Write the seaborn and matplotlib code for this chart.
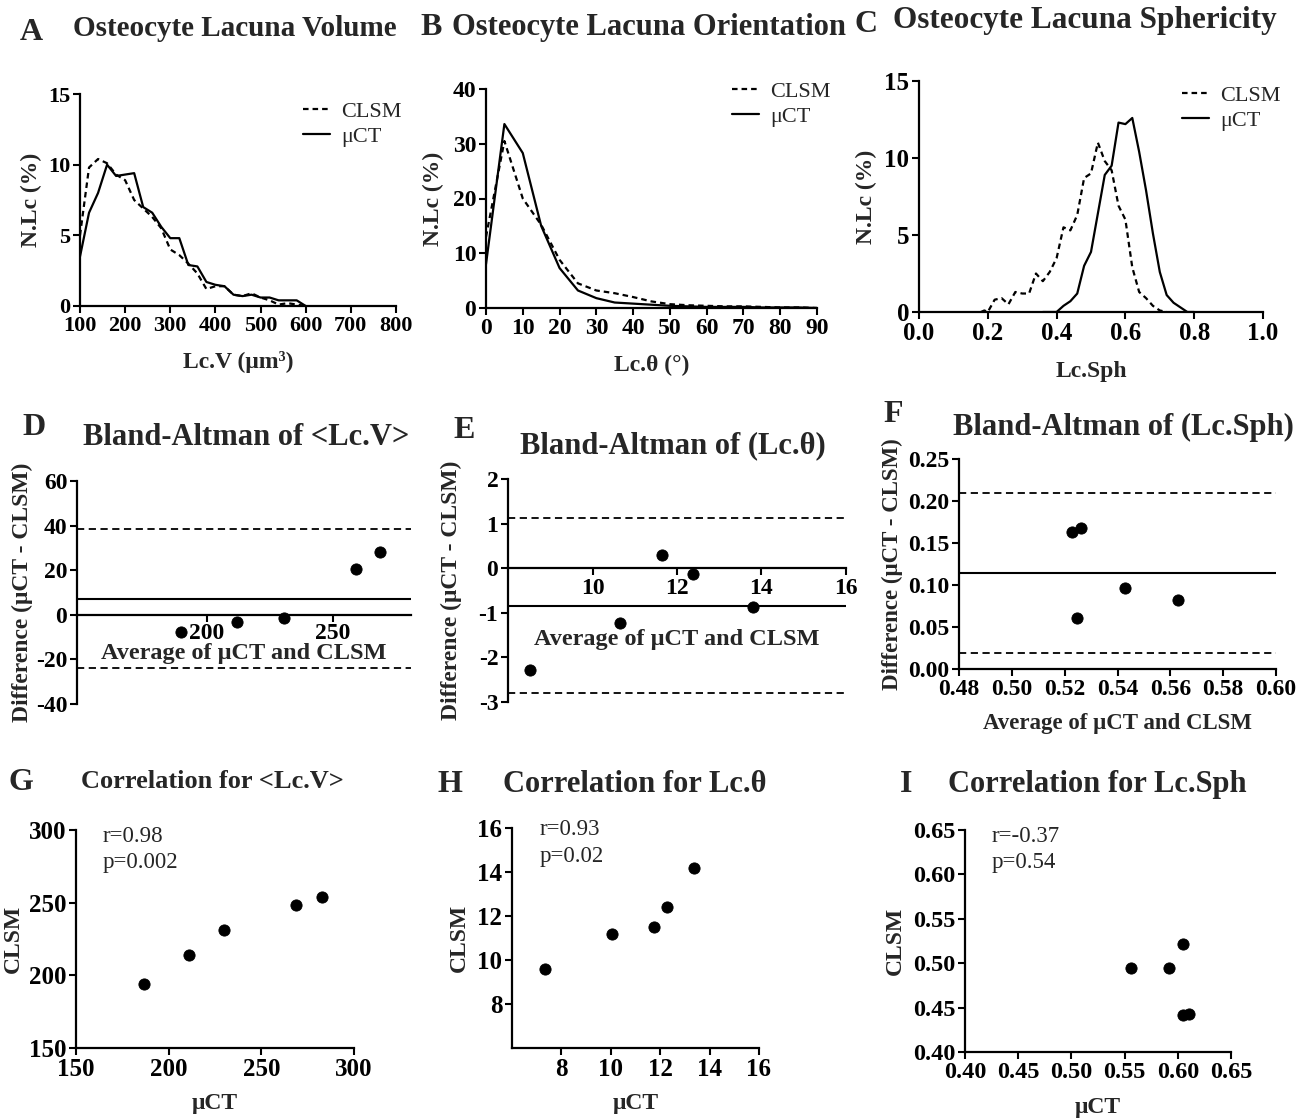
import matplotlib
matplotlib.use("Agg")
import matplotlib.pyplot as plt
import seaborn as sns
import pandas as pd

# ---- A: lacuna volume distribution (%), 20 um^3 bins
lcv_bins = [100, 120, 140, 160, 180, 200, 220, 240, 260, 280, 300, 320, 340,
            360, 380, 400, 420, 440, 460, 480, 500, 520, 540, 560, 580, 600]
lcv_ct = [3.5, 6.6, 8.0, 10.0, 9.2, 9.3, 9.4, 7.0, 6.6, 5.6, 4.8, 4.8, 2.9,
          2.8, 1.7, 1.5, 1.4, 0.8, 0.7, 0.8, 0.6, 0.6, 0.4, 0.4, 0.4, 0.0]
lcv_clsm = [5.0, 9.8, 10.4, 10.1, 9.3, 8.9, 7.5, 6.9, 6.3, 5.5, 4.0, 3.6, 3.0,
            2.3, 1.2, 1.4, 1.4, 0.8, 0.7, 0.9, 0.6, 0.4, 0.1, 0.2, 0.1, 0.0]

# ---- B: lacuna orientation distribution (%), 5 degree bins
theta_bins = [0, 5, 10, 15, 20, 25, 30, 35, 40, 45, 50, 55, 60, 65, 70, 75, 80, 85, 90]
theta_ct = [8.0, 33.6, 28.3, 15.0, 7.3, 3.2, 1.8, 1.0, 0.8, 0.6, 0.4, 0.3,
            0.2, 0.2, 0.2, 0.1, 0.1, 0.1, 0.0]
theta_clsm = [13.0, 30.5, 20.0, 15.2, 8.8, 4.5, 3.2, 2.7, 2.0, 1.2, 0.7, 0.5,
              0.4, 0.3, 0.3, 0.2, 0.1, 0.1, 0.0]

# ---- C: lacuna sphericity distribution (%)
sph_bins_clsm = [0.18, 0.19, 0.20, 0.22, 0.24, 0.26, 0.28, 0.30, 0.32, 0.34, 0.36,
                 0.38, 0.40, 0.42, 0.44, 0.46, 0.48, 0.50, 0.52, 0.54, 0.56, 0.58,
                 0.60, 0.62, 0.64, 0.66, 0.68, 0.70, 0.72]
sph_clsm = [0.0, 0.1, 0.0, 0.8, 0.9, 0.5, 1.3, 1.2, 1.2, 2.5, 2.0,
            2.6, 3.5, 5.5, 5.3, 6.3, 8.7, 9.0, 11.0, 9.8, 9.2, 6.9,
            6.0, 2.9, 1.3, 0.9, 0.4, 0.1, 0.0]
sph_bins_ct = [0.36, 0.38, 0.40, 0.42, 0.44, 0.46, 0.48, 0.50, 0.52, 0.54, 0.56,
               0.58, 0.60, 0.62, 0.64, 0.66, 0.68, 0.70, 0.72, 0.74, 0.76, 0.78, 0.80]
sph_ct = [0.0, 0.0, 0.0, 0.4, 0.7, 1.2, 3.0, 3.9, 6.4, 8.9, 9.5,
          12.3, 12.2, 12.6, 10.4, 7.9, 5.1, 2.6, 1.1, 0.6, 0.3, 0.0, 0.0]

# ---- D: Bland-Altman <Lc.V>
ba_v_avg = [189.7, 211.9, 230.5, 259.1, 268.7]
ba_v_diff = [-7.7, -3.2, -1.5, 20.5, 28.2]
ba_v_bias, ba_v_hi, ba_v_lo = 7.3, 38.5, -23.9

# ---- E: Bland-Altman Lc.theta
ba_t_avg = [8.52, 10.64, 11.64, 12.38, 13.81]
ba_t_diff = [-2.28, -1.23, 0.30, -0.13, -0.87]
ba_t_bias, ba_t_hi, ba_t_lo = -0.84, 1.13, -2.80

# ---- F: Bland-Altman Lc.Sph
ba_s_avg = [0.5228, 0.5262, 0.5247, 0.5428, 0.5629]
ba_s_diff = [0.163, 0.168, 0.061, 0.096, 0.082]
ba_s_bias, ba_s_hi, ba_s_lo = 0.114, 0.2095, 0.019

# ---- G/H/I: correlations (uCT vs CLSM)
cor_v_ct = [186.7, 211.0, 229.9, 268.7, 282.7]
cor_v_clsm = [194.0, 214.0, 231.0, 248.4, 253.9]
cor_t_ct = [7.35, 10.03, 11.74, 12.27, 13.36]
cor_t_clsm = [9.6, 11.2, 11.48, 12.4, 14.2]
cor_s_ct = [0.556, 0.5917, 0.605, 0.605, 0.6105]
cor_s_clsm = [0.4946, 0.495, 0.5216, 0.4417, 0.4427]

sns.set_theme(style="ticks")
plt.rcParams["font.family"] = ["Liberation Serif", "DejaVu Serif"]
plt.rcParams["font.weight"] = "bold"
plt.rcParams["axes.labelweight"] = "bold"
plt.rcParams["axes.unicode_minus"] = False

W, H = 1311, 1120
fig = plt.figure(figsize=(W / 100, H / 100), dpi=100)

DASH = (0, (2.5, 1.8))
LIM_DASH = (0, (4, 2.5))


def add_ax(l, t, r, b):
    return fig.add_axes([l / W, 1 - b / H, (r - l) / W, (b - t) / H])


def style_ax(ax, tick_fs=17):
    sns.despine(ax=ax)
    for s in ["left", "bottom"]:
        ax.spines[s].set_linewidth(1.6)
        ax.spines[s].set_color("black")
    ax.tick_params(direction="out", length=5, width=1.5, labelsize=tick_fs,
                   pad=2, colors="black")


def fig_text(x, y, s, size, weight="bold", **kw):
    fig.text(x / W, 1 - y / H, s, fontsize=size, fontweight=weight,
             va="baseline", ha="left", **kw)


def labels(ax, xl, yl, xd, yd, w, h, fs=17):
    if xl:
        ax.set_xlabel(xl, fontsize=fs, va="center")
        ax.xaxis.set_label_coords(0.5, -xd / h)
    ax.set_ylabel(yl, fontsize=fs, va="center")
    ax.yaxis.set_label_coords(-yd / w, 0.5)


def dist_panel(box, x1, y1, x2, y2, leg_xy):
    ax = add_ax(*box)
    sns.lineplot(x=x1, y=y1, ax=ax, color="black", lw=1.6, linestyle=DASH,
                 label="CLSM", sort=False)
    sns.lineplot(x=x2, y=y2, ax=ax, color="black", lw=1.6, label="μCT", sort=False)
    ax.legend(loc="upper left", bbox_to_anchor=(leg_xy[0] / W, 1 - leg_xy[1] / H),
              bbox_transform=fig.transFigure, frameon=False,
              prop={"size": 16, "weight": "normal"}, handlelength=1.2,
              handletextpad=0.5, labelspacing=0.2, borderaxespad=0, borderpad=0)
    return ax


def ba_panel(box, avg, diff, bias, hi, lo):
    ax = add_ax(*box)
    sns.scatterplot(x=avg, y=diff, ax=ax, color="black", s=65, edgecolor="black",
                    zorder=3)
    ax.axhline(bias, color="black", lw=1.5)
    ax.axhline(hi, color="black", lw=1.3, linestyle=LIM_DASH)
    ax.axhline(lo, color="black", lw=1.3, linestyle=LIM_DASH)
    return ax


def cor_panel(box, x, y):
    ax = add_ax(*box)
    sns.scatterplot(x=x, y=y, ax=ax, color="black", s=65, edgecolor="black",
                    zorder=3, clip_on=False)
    return ax


# ---------------- row 1
axA = dist_panel((80, 94, 396, 306), lcv_bins, lcv_clsm, lcv_bins, lcv_ct, (303, 101))
axA.set_xlim(100, 800)
axA.set_ylim(0, 15)
axA.set_xticks(range(100, 801, 100))
axA.set_yticks([0, 5, 10, 15])
style_ax(axA, 16)
labels(axA, "Lc.V (μm³)", "N.Lc (%)", 56, 49, 316, 212)

axB = dist_panel((486, 89, 817, 308), theta_bins, theta_clsm, theta_bins, theta_ct, (732, 81))
axB.set_xlim(0, 90)
axB.set_ylim(0, 40)
axB.set_xticks(range(0, 91, 10))
axB.set_yticks(range(0, 41, 10))
style_ax(axB, 17)
labels(axB, "Lc.θ (°)", "N.Lc (%)", 57, 53, 331, 219)

axC = dist_panel((919, 81, 1263, 312), sph_bins_clsm, sph_clsm, sph_bins_ct, sph_ct, (1182, 85))
axC.set_xlim(0, 1.0)
axC.set_ylim(0, 15)
axC.set_xticks([0.0, 0.2, 0.4, 0.6, 0.8, 1.0])
axC.set_xticklabels(["0.0", "0.2", "0.4", "0.6", "0.8", "1.0"])
axC.set_yticks([0, 5, 10, 15])
style_ax(axC, 18)
labels(axC, "Lc.Sph", "N.Lc (%)", 59, 53, 344, 231)

fig_text(20, 40, "A", 23)
fig_text(73, 36, "Osteocyte Lacuna Volume", 21)
fig_text(420, 35, "B", 23)
fig_text(452, 35, "Osteocyte Lacuna Orientation", 22)
fig_text(855, 32, "C", 23)
fig_text(893, 28, "Osteocyte Lacuna Sphericity", 22.5)

# ---------------- row 2
axD = ba_panel((77, 481, 411, 704), ba_v_avg, ba_v_diff, ba_v_bias, ba_v_hi, ba_v_lo)
axD.set_xlim(148.4, 281)
axD.set_ylim(-40, 60)
axD.set_xticks([200, 250])
axD.set_yticks(range(-40, 61, 20))
style_ax(axD, 17)
axD.tick_params(axis="x", pad=1)
axD.spines["bottom"].set_position(("data", 0))
labels(axD, None, "Difference (μCT - CLSM)", 0, 55, 334, 223)
axD.text(0.5, (704 - 659) / 223, "Average of μCT and CLSM", transform=axD.transAxes,
         fontsize=17.5, fontweight="bold", ha="center", va="baseline")

axE = ba_panel((508, 479, 846, 702), ba_t_avg, ba_t_diff, ba_t_bias, ba_t_hi, ba_t_lo)
axE.set_xlim(8, 16)
axE.set_ylim(-3, 2)
axE.set_xticks([10, 12, 14, 16])
axE.set_yticks(range(-3, 3))
style_ax(axE, 17)
axE.spines["bottom"].set_position(("data", 0))
labels(axE, None, "Difference (μCT - CLSM)", 0, 57, 338, 223)
axE.text(0.5, (702 - 645) / 223, "Average of μCT and CLSM", transform=axE.transAxes,
         fontsize=17.5, fontweight="bold", ha="center", va="baseline")

axF = ba_panel((959, 459, 1276, 669), ba_s_avg, ba_s_diff, ba_s_bias, ba_s_hi, ba_s_lo)
axF.set_xlim(0.48, 0.60)
axF.set_ylim(0, 0.25)
axF.set_xticks([0.48, 0.50, 0.52, 0.54, 0.56, 0.58, 0.60])
axF.set_xticklabels(["0.48", "0.50", "0.52", "0.54", "0.56", "0.58", "0.60"])
axF.set_yticks([0, 0.05, 0.10, 0.15, 0.20, 0.25])
axF.set_yticklabels(["0.00", "0.05", "0.10", "0.15", "0.20", "0.25"])
style_ax(axF, 17)
labels(axF, "Average of μCT and CLSM", "Difference (μCT - CLSM)", 54, 67, 317, 210, 16.5)

fig_text(22, 435, "D", 23)
fig_text(83, 445, "Bland-Altman of <Lc.V>", 22)
fig_text(453, 438, "E", 23)
fig_text(520, 453, "Bland-Altman of (Lc.θ)", 22)
fig_text(883, 422, "F", 23)
fig_text(953, 435, "Bland-Altman of (Lc.Sph)", 22)

# ---------------- row 3
axG = cor_panel((76, 830, 354, 1048), cor_v_ct, cor_v_clsm)
axG.set_xlim(150, 300)
axG.set_ylim(150, 300)
axG.set_xticks([150, 200, 250, 300])
axG.set_yticks([150, 200, 250, 300])
style_ax(axG, 18)
labels(axG, "μCT", "CLSM", 56, 63, 278, 218)

axH = cor_panel((512, 828, 759, 1048), cor_t_ct, cor_t_clsm)
axH.set_xlim(6, 16)
axH.set_ylim(6, 16)
axH.set_xticks([8, 10, 12, 14, 16])
axH.set_yticks([8, 10, 12, 14, 16])
style_ax(axH, 18)
labels(axH, "μCT", "CLSM", 56, 53, 247, 220)

axI = cor_panel((965, 830, 1231, 1052), cor_s_ct, cor_s_clsm)
axI.set_xlim(0.40, 0.65)
axI.set_ylim(0.40, 0.65)
ticks_i = [0.40, 0.45, 0.50, 0.55, 0.60, 0.65]
axI.set_xticks(ticks_i)
axI.set_yticks(ticks_i)
axI.set_xticklabels([f"{t:.2f}" for t in ticks_i])
axI.set_yticklabels([f"{t:.2f}" for t in ticks_i])
style_ax(axI, 17.5)
labels(axI, "μCT", "CLSM", 55, 70, 266, 222)

fig_text(8, 790, "G", 23)
fig_text(81, 788, "Correlation for <Lc.V>", 19)
fig_text(438, 792, "H", 23)
fig_text(503, 792, "Correlation for Lc.θ", 22)
fig_text(900, 792, "I", 23)
fig_text(948, 792, "Correlation for Lc.Sph", 22)

fig_text(103, 842, "r=0.98", 16.5, weight="normal")
fig_text(103, 868, "p=0.002", 16.5, weight="normal")
fig_text(540, 835, "r=0.93", 16.5, weight="normal")
fig_text(540, 862, "p=0.02", 16.5, weight="normal")
fig_text(992, 842, "r=-0.37", 16.5, weight="normal")
fig_text(992, 868, "p=0.54", 16.5, weight="normal")

fig.savefig("out.png", dpi=100, facecolor="white")
